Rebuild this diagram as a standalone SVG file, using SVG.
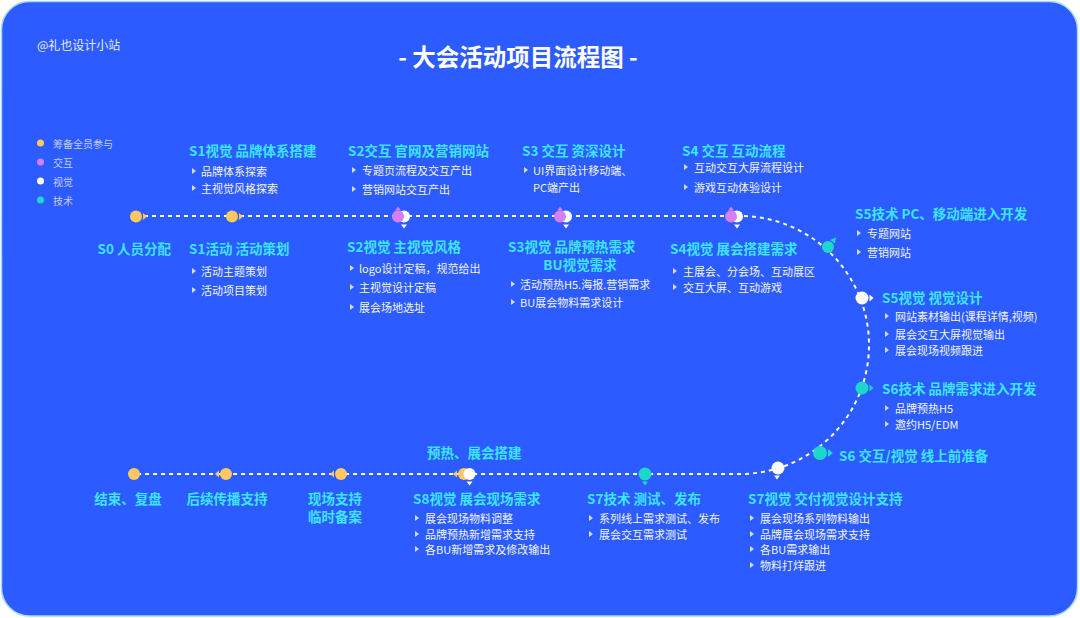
<svg xmlns="http://www.w3.org/2000/svg" xmlns:xlink="http://www.w3.org/1999/xlink" width="1080" height="618" viewBox="0 0 1080 618">
<defs>
<style>
text{font-family:"Noto Sans CJK SC","Noto Sans",sans-serif;dominant-baseline:central}
.h{fill:#3DE4FF;font-size:13.5px;font-weight:700}
.b{fill:#F2F4FF;font-size:11px}
.lg{fill:#C4CCFF;font-size:10px}
.t{fill:#fff;font-size:23.5px;font-weight:700}
.w{fill:#E8ECFF;font-size:12px}
.bt{fill:#D5DBF8}
.y{fill:#FFC861}
.p{fill:#D77EF0}
.wh{fill:#FFFFFF}
.c{fill:#1ED7CB}
.line{fill:none;stroke:#fff;stroke-width:2;stroke-dasharray:4 4}
</style>
<path id="bt" d="M0 -3 L4 0 L0 3 Z" class="bt"/>
</defs>
<rect x="0" y="0" width="1080" height="618" fill="#fff"/>
<rect x="1.5" y="1.5" width="1076" height="614.5" rx="28" fill="#2C5BFF" stroke="#A9D8FF" stroke-width="1.5"/>
<text class="w" x="37" y="44">@礼也设计小站</text>
<text class="t" x="518" y="56" text-anchor="middle">- 大会活动项目流程图 -</text>
<g id="legend">
<circle cx="40.5" cy="143" r="3.5" class="y"/><text class="lg" x="53" y="143">筹备全员参与</text>
<circle cx="40.5" cy="162" r="3.5" class="p"/><text class="lg" x="53" y="162">交互</text>
<circle cx="40.5" cy="181" r="3.5" class="wh"/><text class="lg" x="53" y="181">视觉</text>
<circle cx="40.5" cy="200" r="3.5" class="c"/><text class="lg" x="53" y="200">技术</text>
</g>
<g id="connectors">
<path class="line" d="M136 216 H740 A129 129 0 0 1 740 474 H134"/>
</g>
<g id="n-s0">
<circle cx="136" cy="216.5" r="6" class="y"/><path d="M143 213 L147 216.5 L143 220 Z" class="y"/>
<text class="h" x="171" y="248" text-anchor="end">S0 人员分配</text>
</g>
<g id="n-s1">
<circle cx="232" cy="216.5" r="6" class="y"/><path d="M239 213 L243 216.5 L239 220 Z" class="y"/>
<text class="h" x="189" y="150">S1视觉 品牌体系搭建</text>
<use href="#bt" x="192" y="171"/><text class="b" x="201" y="171">品牌体系探索</text>
<use href="#bt" x="192" y="188"/><text class="b" x="201" y="188">主视觉风格探索</text>
<text class="h" x="189" y="248">S1活动 活动策划</text>
<use href="#bt" x="192" y="271"/><text class="b" x="201" y="271">活动主题策划</text>
<use href="#bt" x="192" y="290"/><text class="b" x="201" y="290">活动项目策划</text>
</g>
<g id="n-s2">
<circle cx="404" cy="216.5" r="6" class="wh"/><circle cx="398" cy="216.5" r="6" class="p"/>
<path d="M395 210.5 L398 206.5 L401 210.5 Z" class="p"/><path d="M401 224.5 L404 228.5 L407 224.5 Z" class="wh"/>
<text class="h" x="348" y="150">S2交互 官网及营销网站</text>
<use href="#bt" x="352" y="170"/><text class="b" x="362" y="170">专题页流程及交互产出</text>
<use href="#bt" x="352" y="189"/><text class="b" x="362" y="189">营销网站交互产出</text>
<text class="h" x="347" y="246">S2视觉 主视觉风格</text>
<use href="#bt" x="350" y="268"/><text class="b" x="359" y="268">logo设计定稿，规范给出</text>
<use href="#bt" x="350" y="287"/><text class="b" x="359" y="287">主视觉设计定稿</text>
<use href="#bt" x="350" y="307"/><text class="b" x="359" y="307">展会场地选址</text>
</g>
<g id="n-s3">
<circle cx="566" cy="216.5" r="6" class="wh"/><circle cx="560" cy="216.5" r="6" class="p"/>
<path d="M557 210.5 L560 206.5 L563 210.5 Z" class="p"/><path d="M563 224.5 L566 228.5 L569 224.5 Z" class="wh"/>
<text class="h" x="522" y="150">S3 交互 资深设计</text>
<use href="#bt" x="524" y="170"/><text class="b" x="533" y="170">UI界面设计移动端、</text>
<text class="b" x="533" y="187">PC端产出</text>
<text class="h" x="508" y="246">S3视觉 品牌预热需求</text>
<text class="h" x="580" y="264" text-anchor="middle">BU视觉需求</text>
<use href="#bt" x="511" y="284"/><text class="b" x="520" y="284">活动预热H5.海报.营销需求</text>
<use href="#bt" x="511" y="302"/><text class="b" x="520" y="302">BU展会物料需求设计</text>
</g>
<g id="n-s4">
<circle cx="737" cy="216.5" r="6" class="wh"/><circle cx="731" cy="216.5" r="6" class="p"/>
<path d="M728 210.5 L731 206.5 L734 210.5 Z" class="p"/><path d="M734 224.5 L737 228.5 L740 224.5 Z" class="wh"/>
<text class="h" x="682" y="150">S4 交互 互动流程</text>
<use href="#bt" x="684" y="167"/><text class="b" x="694" y="167">互动交互大屏流程设计</text>
<use href="#bt" x="684" y="187"/><text class="b" x="694" y="187">游戏互动体验设计</text>
<text class="h" x="670" y="248">S4视觉 展会搭建需求</text>
<use href="#bt" x="673" y="271"/><text class="b" x="683" y="271">主展会、分会场、互动展区</text>
<use href="#bt" x="673" y="287"/><text class="b" x="683" y="287">交互大屏、互动游戏</text>
</g>
<g id="n-s5-tech">
<circle cx="828" cy="247" r="6" class="c"/><path d="M830 240 L836 237.5 L835 243.5 Z" class="c"/>
<text class="h" x="855" y="213">S5技术 PC、移动端进入开发</text>
<use href="#bt" x="857" y="233"/><text class="b" x="867" y="233">专题网站</text>
<use href="#bt" x="857" y="252"/><text class="b" x="867" y="252">营销网站</text>
</g>
<g id="n-s5-visual">
<circle cx="862" cy="298" r="6.5" class="wh"/><path d="M869.5 294.5 L873.5 298 L869.5 301.5 Z" class="wh"/>
<text class="h" x="882" y="297">S5视觉 视觉设计</text>
<use href="#bt" x="885" y="316"/><text class="b" x="895" y="316">网站素材输出(课程详情,视频)</text>
<use href="#bt" x="885" y="334"/><text class="b" x="895" y="334">展会交互大屏视觉输出</text>
<use href="#bt" x="885" y="350"/><text class="b" x="895" y="350">展会现场视频跟进</text>
</g>
<g id="n-s6-tech">
<circle cx="862" cy="388" r="6.5" class="c"/><path d="M869.5 384.5 L873.5 388 L869.5 391.5 Z" class="c"/>
<text class="h" x="882" y="388">S6技术 品牌需求进入开发</text>
<use href="#bt" x="885" y="408"/><text class="b" x="895" y="408">品牌预热H5</text>
<use href="#bt" x="885" y="424"/><text class="b" x="895" y="424">邀约H5/EDM</text>
</g>
<g id="n-s6">
<circle cx="820" cy="453" r="7" class="c"/><path d="M828 449 L833 453 L828 457 Z" class="c"/>
<text class="h" x="839" y="455">S6 交互/视觉 线上前准备</text>
</g>
<g id="n-s7-visual">
<circle cx="778" cy="468" r="6.5" class="wh"/><path d="M774 475.5 L777 479.5 L780 475.5 Z" class="wh"/>
<text class="h" x="748" y="498">S7视觉 交付视觉设计支持</text>
<use href="#bt" x="750" y="518"/><text class="b" x="760" y="518">展会现场系列物料输出</text>
<use href="#bt" x="750" y="534"/><text class="b" x="760" y="534">品牌展会现场需求支持</text>
<use href="#bt" x="750" y="549"/><text class="b" x="760" y="549">各BU需求输出</text>
<use href="#bt" x="750" y="565"/><text class="b" x="760" y="565">物料打烊跟进</text>
</g>
<g id="n-s7-tech">
<circle cx="645" cy="474" r="6.5" class="c"/><path d="M642 481.5 L645 485.5 L648 481.5 Z" class="c"/>
<text class="h" x="587" y="498">S7技术 测试、发布</text>
<use href="#bt" x="589" y="518"/><text class="b" x="599" y="518">系列线上需求测试、发布</text>
<use href="#bt" x="589" y="534"/><text class="b" x="599" y="534">展会交互需求测试</text>
</g>
<g id="n-s8">
<circle cx="464" cy="474" r="6" class="y"/><path d="M457 470.5 L453 474 L457 477.5 Z" class="y"/>
<circle cx="469.5" cy="474" r="6" class="wh"/><path d="M466.5 481.5 L469.5 485.5 L472.5 481.5 Z" class="wh"/>
<text class="h" x="427" y="452">预热、展会搭建</text>
<text class="h" x="413" y="498">S8视觉 展会现场需求</text>
<use href="#bt" x="415" y="518"/><text class="b" x="425" y="518">展会现场物料调整</text>
<use href="#bt" x="415" y="534"/><text class="b" x="425" y="534">品牌预热新增需求支持</text>
<use href="#bt" x="415" y="549"/><text class="b" x="425" y="549">各BU新增需求及修改输出</text>
</g>
<g id="n-onsite">
<circle cx="341" cy="474" r="6" class="y"/><path d="M334 470.5 L330 474 L334 477.5 Z" class="y"/>
<text class="h" x="335" y="498" text-anchor="middle">现场支持</text>
<text class="h" x="335" y="516" text-anchor="middle">临时备案</text>
</g>
<g id="n-spread">
<circle cx="226" cy="474" r="6" class="y"/><path d="M219 470.5 L215 474 L219 477.5 Z" class="y"/>
<text class="h" x="227" y="498" text-anchor="middle">后续传播支持</text>
</g>
<g id="n-end">
<circle cx="134" cy="474" r="6" class="y"/>
<text class="h" x="128" y="498" text-anchor="middle">结束、复盘</text>
</g>
</svg>
